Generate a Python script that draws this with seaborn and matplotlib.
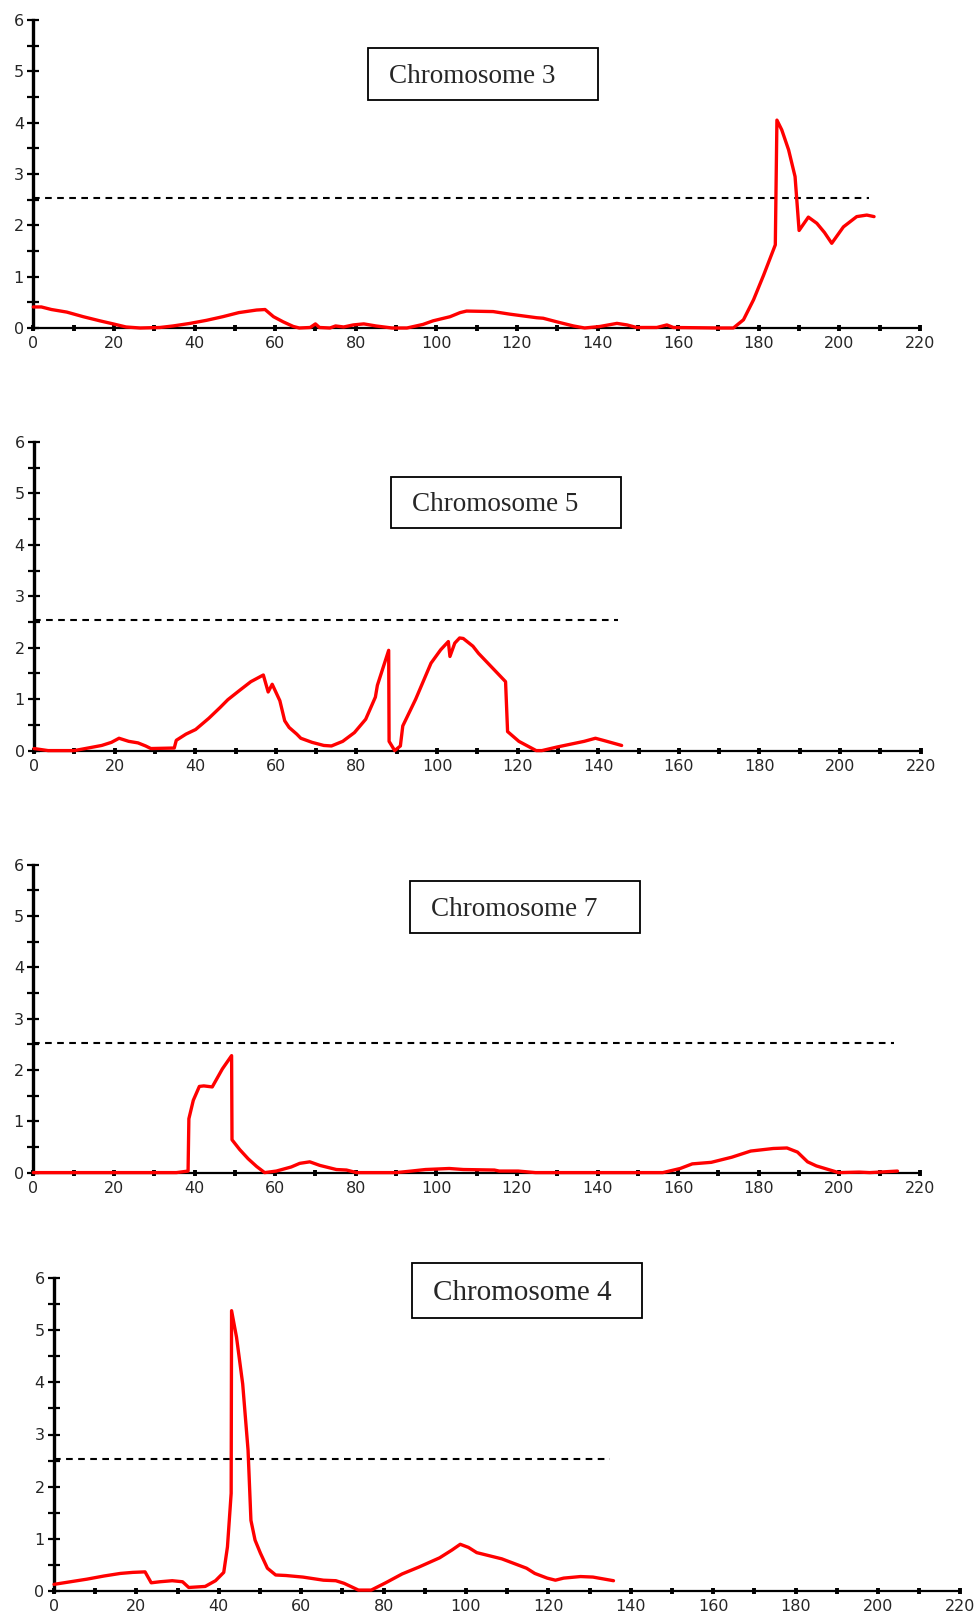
import matplotlib

matplotlib.use("Agg")

import numpy as np
import pandas as pd
import matplotlib.pyplot as plt
import seaborn as sns
from matplotlib.patches import Rectangle
from matplotlib.ticker import MultipleLocator

# LOD profiles (position in cM, LOD score)
chr3_x = [0, 2, 4.5, 8.3, 12.4, 16.5, 19.8, 23, 26.5, 31.4, 34.7, 38.9, 43, 47, 51, 55.4, 57.5,
          59.6, 62, 64.5, 66, 68.7, 70, 71, 73.6, 75, 77, 79.4, 82, 85, 89, 92.7, 96.7, 99.2,
          103.4, 105.9, 107.5, 114.1, 118.2, 124.9, 126.5, 129.9, 134, 136.8, 140.6, 144.8,
          147.3, 149.7, 154.7, 157.2, 158.8, 170.4, 173.7, 176.2, 178.7, 181.2, 184.1, 184.5,
          185.7, 187.4, 189, 190, 192.3, 194.4, 196.3, 198.1, 201, 204.3, 206.8, 208.6]
chr3_y = [0.41, 0.41, 0.36, 0.31, 0.22, 0.14, 0.08, 0.02, 0, 0.01, 0.04, 0.09, 0.15, 0.22, 0.30,
          0.35, 0.36, 0.22, 0.12, 0.03, 0, 0.01, 0.08, 0.01, 0, 0.04, 0.02, 0.06, 0.08, 0.04, 0,
          0, 0.07, 0.14, 0.22, 0.30, 0.33, 0.32, 0.27, 0.2, 0.19, 0.12, 0.04, 0, 0.03, 0.09, 0.06,
          0.01, 0.01, 0.06, 0.01, 0, 0, 0.16, 0.55, 1.03, 1.62, 4.05, 3.86, 3.47, 2.95, 1.9, 2.16,
          2.04, 1.86, 1.65, 1.97, 2.17, 2.2, 2.17]

chr5_x = [0, 3.5, 10, 16.8, 19.2, 21.1, 23.5, 25.8, 27.7, 29, 34.8, 35.3, 37.7, 40.1, 43.4, 46.2,
          48.1, 51, 53.8, 56.9, 58.1, 59.1, 61, 62.2, 63.3, 65.2, 66.2, 69, 71.9, 73.8, 76.6, 79.5,
          82.3, 84.7, 85.2, 88, 88.1, 89.5, 90.9, 91.5, 94.7, 98.5, 100.9, 102.8, 103.2, 104.4,
          105.6, 106.5, 108.9, 110.3, 117, 117.5, 120.3, 124.6, 126, 129.8, 136.5, 139.3, 141.2,
          145.8]
chr5_y = [0.04, 0, 0, 0.1, 0.16, 0.24, 0.18, 0.15, 0.09, 0.04, 0.05, 0.2, 0.32, 0.41, 0.63, 0.84,
          0.99, 1.17, 1.34, 1.47, 1.14, 1.29, 0.97, 0.58, 0.45, 0.32, 0.24, 0.16, 0.1, 0.09, 0.18,
          0.35, 0.61, 1.04, 1.27, 1.95, 0.18, 0, 0.09, 0.48, 1.0, 1.7, 1.96, 2.12, 1.83, 2.09, 2.19,
          2.18, 2.03, 1.89, 1.34, 0.37, 0.18, 0, 0, 0.07, 0.18, 0.24, 0.2, 0.1]

chr7_x = [0, 35.5, 38.4, 38.6, 39.7, 41.2, 42.3, 44.4, 46.9, 49.2, 49.3, 51.2, 53.3, 55.4, 57.4,
          60.3, 64, 66.1, 68.6, 71.1, 75.2, 77.7, 80.2, 90, 93.8, 97.3, 103.2, 106.7, 114.4, 115.6,
          120.3, 124.6, 156.2, 160.5, 163.5, 168.2, 173.3, 178, 183.6, 187, 189.6, 192.1, 194.3,
          199.8, 204.9, 207.5, 210, 214.4]
chr7_y = [0, 0, 0.03, 1.05, 1.41, 1.68, 1.69, 1.67, 2.02, 2.28, 0.64, 0.45, 0.27, 0.12, 0, 0.03,
          0.11, 0.18, 0.21, 0.14, 0.06, 0.05, 0, 0, 0.03, 0.06, 0.08, 0.06, 0.05, 0.03, 0.03, 0, 0,
          0.08, 0.17, 0.2, 0.3, 0.42, 0.47, 0.48, 0.4, 0.21, 0.13, 0, 0.01, 0, 0.01, 0.03]

chr4_x = [0, 4, 8, 12.1, 16.1, 19.1, 22.1, 23.6, 25.7, 28.7, 31.2, 32.7, 36.7, 39.2, 41.2, 42.1,
          43, 43.1, 44.3, 45.8, 47.1, 47.8, 48.8, 50.1, 51.8, 53.8, 56.3, 60.4, 65.4, 68.4, 70.4,
          73.9, 77, 80.5, 84.5, 88.5, 93.6, 96.6, 98.6, 100.6, 102.6, 108.7, 112.7, 114.7, 116.7,
          119.7, 121.7, 123.7, 127.8, 130.8, 135.8]
chr4_y = [0.12, 0.17, 0.22, 0.28, 0.33, 0.35, 0.36, 0.15, 0.17, 0.19, 0.17, 0.06, 0.08, 0.19,
          0.35, 0.84, 1.87, 5.38, 4.87, 3.97, 2.7, 1.35, 0.97, 0.72, 0.43, 0.3, 0.29, 0.26, 0.2,
          0.19, 0.14, 0.01, 0.01, 0.15, 0.32, 0.45, 0.63, 0.78, 0.89, 0.83, 0.73, 0.61, 0.49, 0.43,
          0.33, 0.24, 0.2, 0.24, 0.27, 0.26, 0.19]

titles = ["Chromosome 3", "Chromosome 5", "Chromosome 7", "Chromosome 4"]
threshold = 2.53
threshold_end = [207.4, 145, 213.5, 135]

sns.set_style("white")
plt.rcParams["font.family"] = ["DejaVu Sans"]

W, H = 978, 1614
fig = plt.figure(figsize=(W / 100, H / 100), dpi=100)

# axes frames in pixels: left, right, top, bottom
frames = [(33.3, 920, 20, 328), (34, 920.7, 442, 750.6),
          (33.3, 920, 864.8, 1172.6), (54, 960.4, 1278.4, 1590.6)]
# label boxes in pixels: left, right, top, bottom
boxes = [(368, 598, 48, 100), (391, 621, 476.7, 528),
         (410, 640, 881, 933), (412, 642, 1263, 1318)]
title_sizes = [19.5, 19.5, 19.5, 21]

series = [(chr3_x, chr3_y), (chr5_x, chr5_y), (chr7_x, chr7_y), (chr4_x, chr4_y)]

for i, (xs, ys) in enumerate(series):
    l, r, t, b = frames[i]
    ax = fig.add_axes([l / W, 1 - b / H, (r - l) / W, (b - t) / H])
    df = pd.DataFrame({"pos": xs, "lod": ys})
    sns.lineplot(data=df, x="pos", y="lod", ax=ax, color="#ff0000", lw=2.4,
                 sort=False, estimator=None, zorder=5, clip_on=False)
    ax.plot([0, threshold_end[i]], [threshold, threshold], color="black", lw=1.5,
            dashes=(3.2, 2.6))
    ax.set_xlim(0, 220)
    ax.set_ylim(0, 6)
    ax.set_xlabel("")
    ax.set_ylabel("")
    for s in ["top", "right"]:
        ax.spines[s].set_visible(False)
    ax.spines["left"].set_linewidth(2.4)
    ax.spines["bottom"].set_linewidth(1.6)
    ax.spines["left"].set_color("black")
    ax.spines["bottom"].set_color("black")
    ax.xaxis.set_major_locator(MultipleLocator(20))
    ax.xaxis.set_minor_locator(MultipleLocator(10))
    ax.yaxis.set_major_locator(MultipleLocator(1))
    ax.yaxis.set_minor_locator(MultipleLocator(0.5))
    ax.tick_params(axis="x", which="both", direction="inout", length=4.5, width=2.8,
                   color="black", bottom=True, labelsize=11.5, pad=3.5)
    ax.tick_params(axis="y", which="both", direction="inout", length=8.5, width=1.6,
                   color="black", left=True, labelsize=11.5, pad=2.5)
    ax.set_facecolor("none")

    bl, br, bt, bb = boxes[i]
    fig.patches.append(Rectangle((bl / W, 1 - bb / H), (br - bl) / W, (bb - bt) / H,
                                 transform=fig.transFigure, fill=False,
                                 edgecolor="black", lw=1.3))
    cap = title_sizes[i] * 100 / 72 * 0.662
    fig.text((bl + 21) / W, 1 - ((bt + bb) / 2 + cap / 2) / H, titles[i],
             va="baseline", ha="left", family="Liberation Serif", size=title_sizes[i])

fig.savefig("out.png", dpi=100)
